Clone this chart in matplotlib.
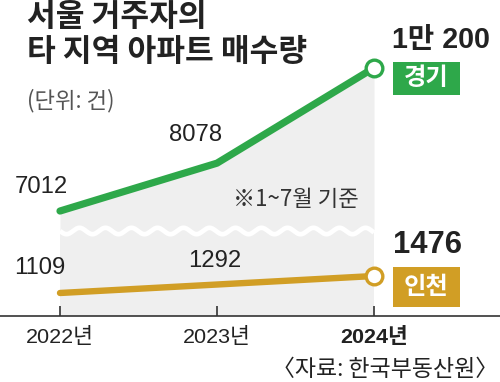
import matplotlib
matplotlib.use('Agg')
import matplotlib.pyplot as plt
from matplotlib import font_manager
from matplotlib.patches import Rectangle
import matplotlib.transforms as mtrans
import numpy as np

# ---- data ----
years = [2022, 2023, 2024]
gyeonggi = [7012, 8078, 10200]
incheon = [1109, 1292, 1476]
gyeonggi_labels = ['7012', '8078', '1만 200']
incheon_labels = ['1109', '1292', '1476']
tick_labels = ['2022년', '2023년', '2024년']
series_names = ['경기', '인천']

names = {f.name for f in font_manager.fontManager.ttflist}
NARROW = 'Liberation Sans Narrow' in names
NUM = 'Liberation Sans Narrow' if NARROW else 'Liberation Sans'
k = 1.0 if NARROW else 0.86   # size factor so widths roughly match
KR = 'Noto Sans CJK KR'
plt.rcParams['font.family'] = [KR, 'DejaVu Sans']

W, H = 500, 382
fig = plt.figure(figsize=(W / 100, H / 100), dpi=100)
fig.patch.set_facecolor('white')

GREEN = '#2ea84a'
GOLD = '#d19e25'
GRAY = '#efefef'
DARK = '#222222'

xl = (2022 - 60 / 157, 2024 + 126 / 157)
break_px = 231
top_ax = fig.add_axes([0, 1 - break_px / H, 1, (break_px - 20) / H])
bot_ax = fig.add_axes([0, 1 - 316 / H, 1, (316 - break_px) / H])
top_ylim = (6567, 11266)
bot_ylim = (612, 2448)

for ax, yl in ((top_ax, top_ylim), (bot_ax, bot_ylim)):
    ax.set_xlim(*xl)
    ax.set_ylim(*yl)
    ax.patch.set_alpha(0)
    for s in ('left', 'right', 'top'):
        ax.spines[s].set_visible(False)
    ax.set_yticks([])

top_ax.spines['bottom'].set_visible(False)
top_ax.set_xticks([])

# gray background
top_ax.fill_between(years, gyeonggi, top_ylim[0], color=GRAY, lw=0, zorder=1)
bot_ax.fill_between(years, bot_ylim[0], bot_ylim[1], color=GRAY, lw=0, zorder=1)

# lines
top_ax.plot(years, gyeonggi, color=GREEN, lw=5.2, solid_capstyle='round',
            solid_joinstyle='round', zorder=3, clip_on=False)
top_ax.plot(years[-1], gyeonggi[-1], 'o', ms=12, mfc='white', mec=GREEN,
            mew=2.4, zorder=4, clip_on=False)
bot_ax.plot(years, incheon, color=GOLD, lw=4.6, solid_capstyle='round',
            zorder=3, clip_on=False)
bot_ax.plot(years[-1], incheon[-1], 'o', ms=12, mfc='white', mec=GOLD,
            mew=2.4, zorder=4, clip_on=False)

# wavy break
blend = mtrans.blended_transform_factory(bot_ax.transData, fig.transFigure)
wx = np.linspace(years[0], years[-1], 800)
wy = 1 - (break_px + 3.2 * np.sin((wx - years[0]) * 157 / 26.0 * 2 * np.pi)) / H
bot_ax.plot(wx, wy, color='white', lw=3.4, transform=blend, zorder=2,
            clip_on=False, solid_capstyle='butt')

# x axis
bot_ax.spines['bottom'].set_color('#333333')
bot_ax.spines['bottom'].set_linewidth(1.2)
bot_ax.set_xticks(years)
bot_ax.set_xticklabels(tick_labels)
bot_ax.tick_params(axis='x', direction='in', length=7.5, width=1.2,
                   color='#333333', pad=8, labelsize=18 * k, labelcolor=DARK)
for i, lab in enumerate(bot_ax.get_xticklabels()):
    lab.set_fontfamily([NUM, KR])
    if i == len(years) - 1:
        lab.set_fontweight('bold')

# value labels
g_off = [(-19, 24), (-21, 28)]
for i in range(2):
    top_ax.annotate(gyeonggi_labels[i], (years[i], gyeonggi[i]), xytext=g_off[i],
                    textcoords='offset pixels', ha='center', va='center',
                    fontsize=20 * k, family=[NUM, KR], color=DARK)
top_ax.annotate(gyeonggi_labels[2], (years[2], gyeonggi[2]), xytext=(18, 28),
                textcoords='offset pixels', ha='left', va='center',
                fontsize=24 * k, family=[NUM, KR], weight='bold', color=DARK,
                annotation_clip=False)
i_off = [(-20, 25), (-2, 23.5)]
for i in range(2):
    bot_ax.annotate(incheon_labels[i], (years[i], incheon[i]), xytext=i_off[i],
                    textcoords='offset pixels', ha='center', va='center',
                    fontsize=20 * k, family=[NUM, KR], color=DARK)
bot_ax.annotate(incheon_labels[2], (years[2], incheon[2]), xytext=(19, 31),
                textcoords='offset pixels', ha='left', va='center',
                fontsize=26 * k, family=[NUM, KR], weight='bold', color=DARK,
                annotation_clip=False)

# series label boxes
inv = fig.transFigure.inverted()
def box(ax, x, y, name, color, top_off, bot_off):
    px, py = ax.transData.transform((x, y))
    l, r = px + 19, px + 86
    t, b = py + top_off, py - bot_off
    (fx0, fy0) = inv.transform((l, b))
    (fx1, fy1) = inv.transform((r, t))
    fig.add_artist(Rectangle((fx0, fy0), fx1 - fx0, fy1 - fy0,
                             transform=fig.transFigure, color=color, lw=0))
    fig.text((fx0 + fx1) / 2, (fy0 + fy1) / 2, name, ha='center', va='center',
             fontsize=17.5, color='white', weight='bold')

box(top_ax, years[-1], gyeonggi[-1], series_names[0], GREEN, 6, 27)
box(bot_ax, years[-1], incheon[-1], series_names[1], GOLD, 9, 31)

# titles and notes
fig.text(27 / W, 1 - 17 / H, '서울 거주자의', fontsize=22.5, weight='bold',
         va='center', ha='left', color=DARK)
fig.text(27 / W, 1 - 52 / H, '타 지역 아파트 매수량', fontsize=22.5, weight='bold',
         va='center', ha='left', color=DARK)
fig.text(27 / W, 1 - 101 / H, '(단위: 건)', fontsize=16, va='center',
         ha='left', color='#555555')
fig.text(296 / W, 1 - 200 / H, '※1~7월 기준', fontsize=16, va='center',
         ha='center', color='#333333', family=[KR, 'DejaVu Sans'])
fig.text(498 / W, 1 - 369 / H, '〈자료: 한국부동산원〉', fontsize=16.5, va='center',
         ha='right', color=DARK)

fig.savefig('out.png', dpi=100)
